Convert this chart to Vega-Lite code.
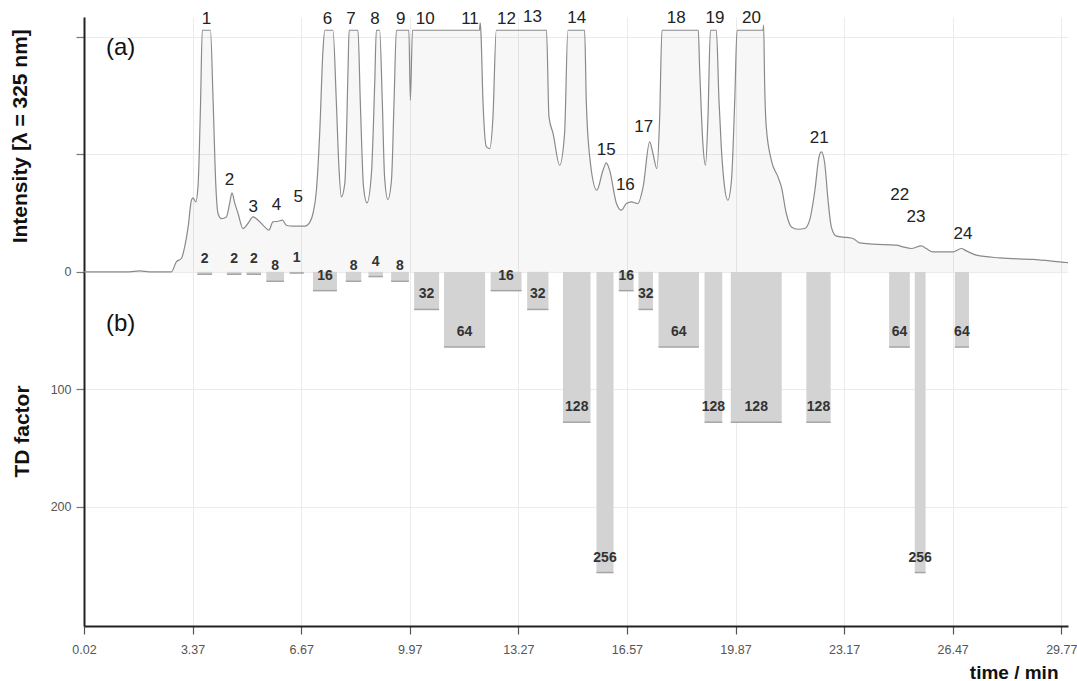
{
  "$schema": "https://vega.github.io/schema/vega-lite/v6.json",
  "width": 984,
  "height": 609,
  "autosize": {"type": "none"},
  "padding": {"left": 84, "top": 17, "right": 9, "bottom": 55},
  "background": "white",
  "config": {"view": {"stroke": null}, "font": "Liberation Sans"},
  "datasets": {
    "chrom": [
      {"t":0.02,"v":0},{"t":1.4,"v":0},{"t":1.72,"v":0.8},{"t":2.0,"v":0},{"t":2.68,"v":0},{"t":2.83,"v":8.5},{"t":2.985,"v":11.4},{"t":3.085,"v":21.3},{"t":3.19,"v":38.3},{"t":3.29,"v":61},{"t":3.34,"v":63},{"t":3.42,"v":59.6},{"t":3.49,"v":72.3},{"t":3.57,"v":146},{"t":3.62,"v":205.7},{"t":3.87,"v":205.7},{"t":3.95,"v":146},{"t":4.03,"v":75.5},{"t":4.10,"v":49.7},{"t":4.20,"v":45.4},{"t":4.355,"v":46.8},{"t":4.455,"v":58.5},{"t":4.525,"v":67.2},{"t":4.61,"v":58.5},{"t":4.71,"v":49.7},{"t":4.86,"v":36.9},{"t":5.01,"v":41.2},{"t":5.165,"v":46.8},{"t":5.32,"v":44},{"t":5.52,"v":38.3},{"t":5.65,"v":35.5},{"t":5.77,"v":42.6},{"t":5.93,"v":43.1},{"t":6.06,"v":44},{"t":6.18,"v":39.7},{"t":6.38,"v":38.9},{"t":6.74,"v":38.9},{"t":6.90,"v":42.6},{"t":6.99,"v":49.7},{"t":7.095,"v":69.5},{"t":7.195,"v":118},{"t":7.295,"v":188.7},{"t":7.35,"v":205.7},{"t":7.60,"v":205.7},{"t":7.70,"v":146},{"t":7.78,"v":89.4},{"t":7.855,"v":63.8},{"t":7.96,"v":75.5},{"t":8.06,"v":174.5},{"t":8.09,"v":205.7},{"t":8.36,"v":205.7},{"t":8.43,"v":146},{"t":8.53,"v":72.3},{"t":8.635,"v":58.7},{"t":8.77,"v":83.7},{"t":8.87,"v":160.6},{"t":8.92,"v":205.7},{"t":9.02,"v":205.7},{"t":9.10,"v":146},{"t":9.17,"v":80.9},{"t":9.27,"v":61.6},{"t":9.38,"v":78},{"t":9.46,"v":146},{"t":9.53,"v":205.7},{"t":9.91,"v":205.7},{"t":9.955,"v":146},{"t":10.02,"v":205.7},{"t":12.06,"v":205.7},{"t":12.08,"v":212},{"t":12.10,"v":205.7},{"t":12.165,"v":146},{"t":12.27,"v":106.4},{"t":12.37,"v":105},{"t":12.47,"v":132},{"t":12.57,"v":205.7},{"t":14.10,"v":205.7},{"t":14.175,"v":132},{"t":14.30,"v":117.8},{"t":14.50,"v":90.8},{"t":14.65,"v":117.8},{"t":14.75,"v":205.7},{"t":15.26,"v":205.7},{"t":15.31,"v":146},{"t":15.415,"v":97.9},{"t":15.63,"v":69.5},{"t":15.82,"v":86.6},{"t":15.92,"v":92.8},{"t":16.02,"v":86.6},{"t":16.23,"v":58.2},{"t":16.38,"v":52.5},{"t":16.53,"v":58.2},{"t":16.68,"v":59.6},{"t":16.88,"v":58.2},{"t":17.04,"v":72.3},{"t":17.24,"v":110.6},{"t":17.34,"v":100.8},{"t":17.46,"v":88},{"t":17.545,"v":132},{"t":17.615,"v":205.7},{"t":18.72,"v":205.7},{"t":18.76,"v":174.5},{"t":18.86,"v":109.3},{"t":18.94,"v":90.8},{"t":19.015,"v":132},{"t":19.09,"v":205.7},{"t":19.27,"v":205.7},{"t":19.35,"v":146},{"t":19.42,"v":106.4},{"t":19.52,"v":72.3},{"t":19.62,"v":61},{"t":19.73,"v":78},{"t":19.83,"v":146},{"t":19.90,"v":205.7},{"t":20.69,"v":205.7},{"t":20.71,"v":210},{"t":20.74,"v":160.6},{"t":20.79,"v":123.4},{"t":20.945,"v":95},{"t":21.145,"v":80.9},{"t":21.25,"v":72.3},{"t":21.40,"v":49.7},{"t":21.555,"v":38.3},{"t":21.755,"v":36.3},{"t":21.96,"v":36.9},{"t":22.11,"v":44},{"t":22.27,"v":69.5},{"t":22.395,"v":97.9},{"t":22.47,"v":102.1},{"t":22.57,"v":92.3},{"t":22.67,"v":61},{"t":22.77,"v":38.3},{"t":22.92,"v":30.4},{"t":23.23,"v":29.3},{"t":23.43,"v":28.4},{"t":23.635,"v":24.7},{"t":24.04,"v":23.6},{"t":24.75,"v":22.7},{"t":24.95,"v":21.3},{"t":25.20,"v":19.9},{"t":25.51,"v":22.1},{"t":25.66,"v":19.9},{"t":25.86,"v":17},{"t":26.47,"v":17},{"t":26.73,"v":19.9},{"t":26.88,"v":17.9},{"t":27.19,"v":14.2},{"t":27.90,"v":11.9},{"t":28.91,"v":10.6},{"t":29.93,"v":8},{"t":29.975,"v":7.9}
    ],
    "peaks": [
      {"label":"1","t":3.745,"v":215},{"label":"2","t":4.45,"v":78},{"label":"3","t":5.17,"v":55.3},{"label":"4","t":5.88,"v":56.6},{"label":"5","t":6.54,"v":63.8},{"label":"6","t":7.43,"v":215},{"label":"7","t":8.148,"v":215},{"label":"8","t":8.88,"v":215},{"label":"9","t":9.66,"v":215},{"label":"10","t":10.41,"v":215},{"label":"11","t":11.77,"v":215},{"label":"12","t":12.88,"v":215},{"label":"13","t":13.67,"v":217},{"label":"14","t":15.02,"v":216},{"label":"15","t":15.92,"v":103.6},{"label":"16","t":16.5,"v":73.8},{"label":"17","t":17.06,"v":123.4},{"label":"18","t":18.05,"v":216},{"label":"19","t":19.23,"v":216},{"label":"20","t":20.34,"v":216},{"label":"21","t":22.4,"v":114},{"label":"22","t":24.85,"v":65.3},{"label":"23","t":25.35,"v":46.8},{"label":"24","t":26.78,"v":32.6}
    ],
    "td": [
      {"start":3.47,"end":3.92,"td":2},{"start":4.37,"end":4.81,"td":2},{"start":4.97,"end":5.41,"td":2},{"start":5.57,"end":6.11,"td":8},{"start":6.28,"end":6.71,"td":1},{"start":6.99,"end":7.72,"td":16},{"start":7.99,"end":8.46,"td":8},{"start":8.68,"end":9.12,"td":4},{"start":9.37,"end":9.91,"td":8},{"start":10.07,"end":10.83,"td":32},{"start":10.98,"end":12.23,"td":64},{"start":12.40,"end":13.34,"td":16},{"start":13.51,"end":14.16,"td":32},{"start":14.60,"end":15.44,"td":128},{"start":15.62,"end":16.14,"td":256},{"start":16.30,"end":16.75,"td":16},{"start":16.90,"end":17.34,"td":32},{"start":17.51,"end":18.74,"td":64},{"start":18.91,"end":19.45,"td":128},{"start":19.71,"end":21.26,"td":128},{"start":22.01,"end":22.75,"td":128},{"start":24.53,"end":25.16,"td":64},{"start":25.31,"end":25.64,"td":256},{"start":26.53,"end":26.96,"td":64}
    ]
  },
  "resolve": {"scale": {"y": "independent"}, "axis": {"y": "independent", "x": "shared"}},
  "layer": [
    {
      "data": {"name": "td"},
      "mark": {"type": "bar", "color": "#d3d3d3"},
      "encoding": {
        "x": {"field": "start", "type": "quantitative", "scale": {"domain": [0.02, 29.975], "nice": false, "zero": false},
          "axis": {
            "values": [0.02, 3.32556, 6.63111, 9.93667, 13.24222, 16.54778, 19.85333, 23.15889, 26.46444, 29.77],
            "labelExpr": "['0.02','3.37','6.67','9.97','13.27','16.57','19.87','23.17','26.47','29.77'][round((datum.value-0.02)/3.305556)]",
            "grid": true, "gridColor": "#ebebeb", "gridWidth": 1,
            "tickColor": "#555", "tickSize": 8, "tickWidth": 1.2,
            "labelFont": "Liberation Sans Narrow, Liberation Sans", "labelFontSize": 12.5, "labelColor": "#555", "labelPadding": 9, "labelFlush": false,
            "domainColor": "#222", "domainWidth": 2,
            "title": "time / min", "titleFontSize": 19, "titleFontWeight": "bold", "titleColor": "#111",
            "titleAlign": "right", "titleAnchor": "end", "titleX": 974, "titleY": 46, "titleBaseline": "middle"
          }},
        "x2": {"field": "end"},
        "y": {"field": "td", "type": "quantitative", "scale": {"domain": [-217, 301.5], "reverse": true, "nice": false, "zero": false},
          "axis": {
            "values": [-200, -100, 0, 100, 200],
            "labelExpr": "datum.value >= 0 ? datum.label : ''",
            "grid": true, "gridColor": "#ebebeb", "gridWidth": 1,
            "tickColor": "#777",
            "tickSize": 8, "tickWidth": 1.2,
            "labelFont": "Liberation Sans Narrow, Liberation Sans", "labelFontSize": 12.5, "labelColor": "#555", "labelPadding": 5,
            "domainColor": "#222", "domainWidth": 2,
            "title": "TD factor", "titleFontSize": 21, "titleFontWeight": "bold", "titleColor": "#111",
            "titleAngle": 270, "titleX": -62, "titleY": 414, "titleAlign": "center", "titleBaseline": "middle"
          }},
        "y2": {"datum": 0}
      }
    },
    {
      "data": {"name": "chrom"},
      "mark": {"type": "area", "interpolate": "monotone", "fill": "#000000", "fillOpacity": 0.03, "line": {"color": "#8a8a8a", "strokeWidth": 1.2}},
      "encoding": {
        "x": {"field": "t", "type": "quantitative", "scale": {"domain": [0.02, 29.975], "nice": false, "zero": false}},
        "y": {"field": "v", "type": "quantitative", "scale": {"domain": [-301.5, 217], "nice": false, "zero": false}, "axis": null}
      }
    },
    {
      "data": {"name": "td"},
      "mark": {"type": "rule", "color": "#a5a5a5", "strokeWidth": 1.5},
      "encoding": {
        "x": {"field": "start", "type": "quantitative", "scale": {"domain": [0.02, 29.975], "nice": false, "zero": false}},
        "x2": {"field": "end"},
        "y": {"field": "td", "type": "quantitative", "scale": {"domain": [-217, 301.5], "reverse": true, "nice": false, "zero": false}, "axis": null}
      }
    },
    {
      "mark": {"type": "rule", "color": "#9a9a9a", "strokeWidth": 1},
      "encoding": {
        "y": {"datum": 0, "type": "quantitative", "scale": {"domain": [-217, 301.5], "reverse": true, "nice": false, "zero": false}, "axis": null}
      }
    },
    {
      "data": {"name": "td"},
      "transform": [{"calculate": "(datum.start + datum.end) / 2", "as": "mid"}],
      "mark": {"type": "text", "fontSize": 14, "fontWeight": "bold", "color": "#333", "baseline": "middle", "align": "center", "dy": -15},
      "encoding": {
        "x": {"field": "mid", "type": "quantitative", "scale": {"domain": [0.02, 29.975], "nice": false, "zero": false}},
        "y": {"field": "td", "type": "quantitative", "scale": {"domain": [-217, 301.5], "reverse": true, "nice": false, "zero": false}, "axis": null},
        "text": {"field": "td", "type": "quantitative"}
      }
    },
    {
      "data": {"name": "peaks"},
      "mark": {"type": "text", "fontSize": 17, "color": "#222", "baseline": "middle", "align": "center"},
      "encoding": {
        "x": {"field": "t", "type": "quantitative", "scale": {"domain": [0.02, 29.975], "nice": false, "zero": false}},
        "y": {"field": "v", "type": "quantitative", "scale": {"domain": [-301.5, 217], "nice": false, "zero": false}, "axis": null},
        "text": {"field": "label"}
      }
    },
    {
      "data": {"values": [{"label": "(a)", "t": 1.137, "v": 190.8}, {"label": "(b)", "t": 1.137, "v": -44.5}]},
      "mark": {"type": "text", "fontSize": 24, "color": "#111", "baseline": "middle", "align": "center"},
      "encoding": {
        "x": {"field": "t", "type": "quantitative", "scale": {"domain": [0.02, 29.975], "nice": false, "zero": false}},
        "y": {"field": "v", "type": "quantitative", "scale": {"domain": [-301.5, 217], "nice": false, "zero": false}, "axis": null},
        "text": {"field": "label"}
      }
    },
    {
      "data": {"values": [{"label": "Intensity [λ = 325 nm]", "t": -1.886, "v": 115.5}]},
      "mark": {"type": "text", "fontSize": 21, "fontWeight": "bold", "color": "#111", "baseline": "middle", "align": "center", "angle": 270},
      "encoding": {
        "x": {"field": "t", "type": "quantitative", "scale": {"domain": [0.02, 29.975], "nice": false, "zero": false}},
        "y": {"field": "v", "type": "quantitative", "scale": {"domain": [-301.5, 217], "nice": false, "zero": false}, "axis": null},
        "text": {"field": "label"}
      }
    }
  ]
}
